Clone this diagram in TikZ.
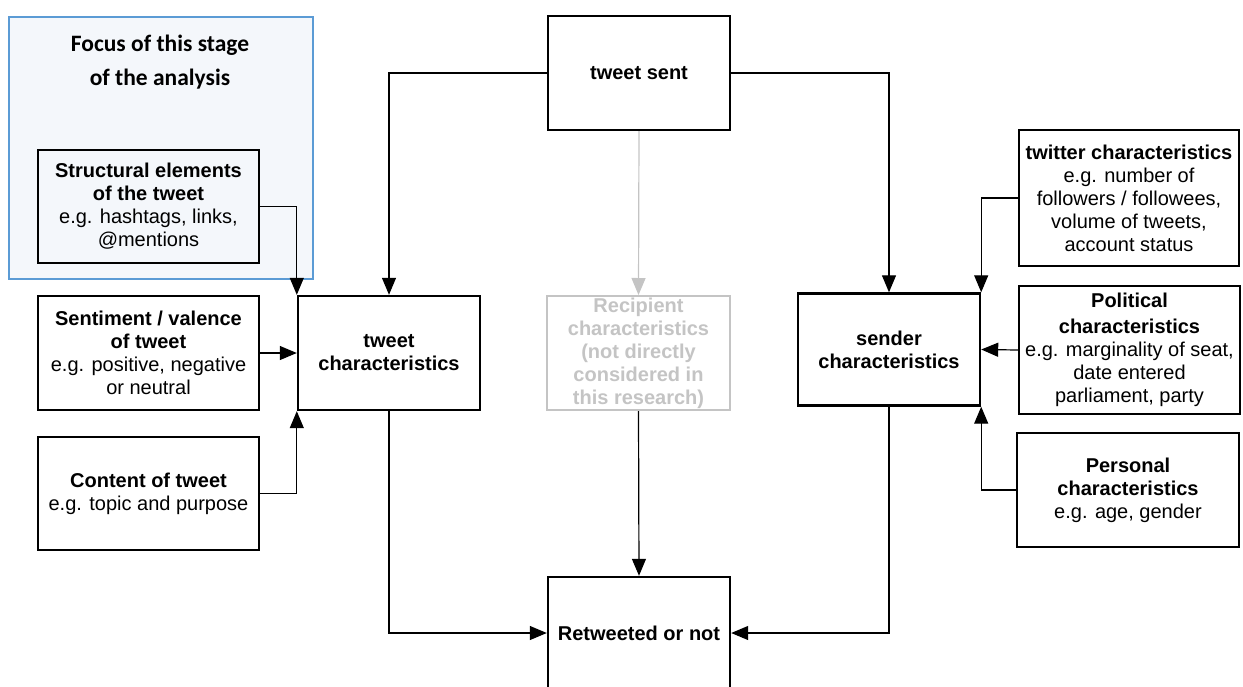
\documentclass[tikz,border=0pt]{standalone}
\usepackage{fontspec}
\setmainfont{Liberation Sans}
\newfontfamily\titlefont{Carlito}
\usetikzlibrary{arrows.meta}
\definecolor{focusfill}{HTML}{F4F7FB}
\definecolor{focusline}{HTML}{5B9BD5}
\definecolor{faded}{HTML}{C4C4C4}
\tikzset{
  box/.style={draw=black, line width=2.4pt, fill=white, inner sep=0pt, align=center,
    font=\fontsize{20}{23}\selectfont},
  fadedbox/.style={box, draw=faded, text=faded, line width=2pt},
  link/.style={draw=black, line width=1.2pt, -{Triangle[length=17pt,width=14pt]}},
  fadedlink/.style={link, draw=faded, -{Triangle[length=17pt,width=14pt,fill=faded]}},
}
\begin{document}
\begin{tikzpicture}[x=1pt,y=-1pt]
\useasboundingbox (0,0) rectangle (1243,686);

% highlighted area of the analysis
\node[draw=focusline, fill=focusfill, line width=1.5pt, minimum width=304pt, minimum height=262pt, inner sep=0pt] (focus) at (161,148) {};
\node[font=\titlefont\bfseries\fontsize{23.5}{34}\selectfont, align=center, anchor=north] (focustitle) at (160,31) {Focus of this stage\\of the analysis};

% left-hand factors
\node[box, fill=focusfill, minimum width=221pt, minimum height=113pt] (struct) at (148.5,206.5)
  {\textbf{Structural elements}\\\textbf{of the tweet}\\e.g. hashtags, links,\\@mentions};
\node[box, minimum width=221pt, minimum height=114pt] (senti) at (148.5,353)
  {\textbf{Sentiment / valence}\\\textbf{of tweet}\\e.g. positive, negative\\or neutral};
\node[box, minimum width=221pt, minimum height=113pt] (content) at (148.5,493.5)
  {\textbf{Content of tweet}\\e.g. topic and purpose};

% central column
\node[box, minimum width=182pt, minimum height=114pt] (sent) at (639,73) {\textbf{tweet sent}};
\node[box, minimum width=182pt, minimum height=114pt] (tc) at (389,353) {\textbf{tweet}\\\textbf{characteristics}};
\node[fadedbox, minimum width=183pt, minimum height=114pt] (rc) at (638.5,353)
  {\textbf{Recipient}\\\textbf{characteristics}\\\textbf{(not directly}\\\textbf{considered in}\\\textbf{this research)}};
\node[box, minimum width=182pt, minimum height=112pt] (sc) at (889,349.5) {\textbf{sender}\\\textbf{characteristics}};
\node[box, minimum width=182pt, minimum height=112pt] (rt) at (639,633) {\textbf{Retweeted or not}};

% right-hand factors
\node[box, minimum width=220pt, minimum height=136pt] (tw) at (1129,198)
  {\textbf{twitter characteristics}\\e.g. number of\\followers / followees,\\volume of tweets,\\account status};
\node[box, minimum width=221pt, minimum height=128pt] (pol) at (1129.5,350)
  {\textbf{Political}\\[3pt]\textbf{characteristics}\\e.g. marginality of seat,\\date entered\\parliament, party};
\node[box, minimum width=222pt, minimum height=114pt] (pers) at (1128,490)
  {\textbf{Personal}\\\textbf{characteristics}\\e.g. age, gender};

% connectors
\draw[link] (sent.west) -| (tc.north);
\draw[link] (sent.east) -| (sc.north);
\draw[fadedlink] (sent.south) -- (rc.north);
\draw[link] (rc.south) -- (rt.north);
\draw[link] (struct.east) -| (tc.north west);
\draw[link] (senti.east) -- (tc.west);
\draw[link] (content.east) -| (tc.south west);
\draw[link] (tc.south) |- (rt.west);
\draw[link] (sc.south) |- (rt.east);
\draw[link] (tw.west) -| (sc.north east);
\draw[link] (pol.west) -- (sc.east);
\draw[link] (pers.west) -| (sc.south east);
\end{tikzpicture}
\end{document}
